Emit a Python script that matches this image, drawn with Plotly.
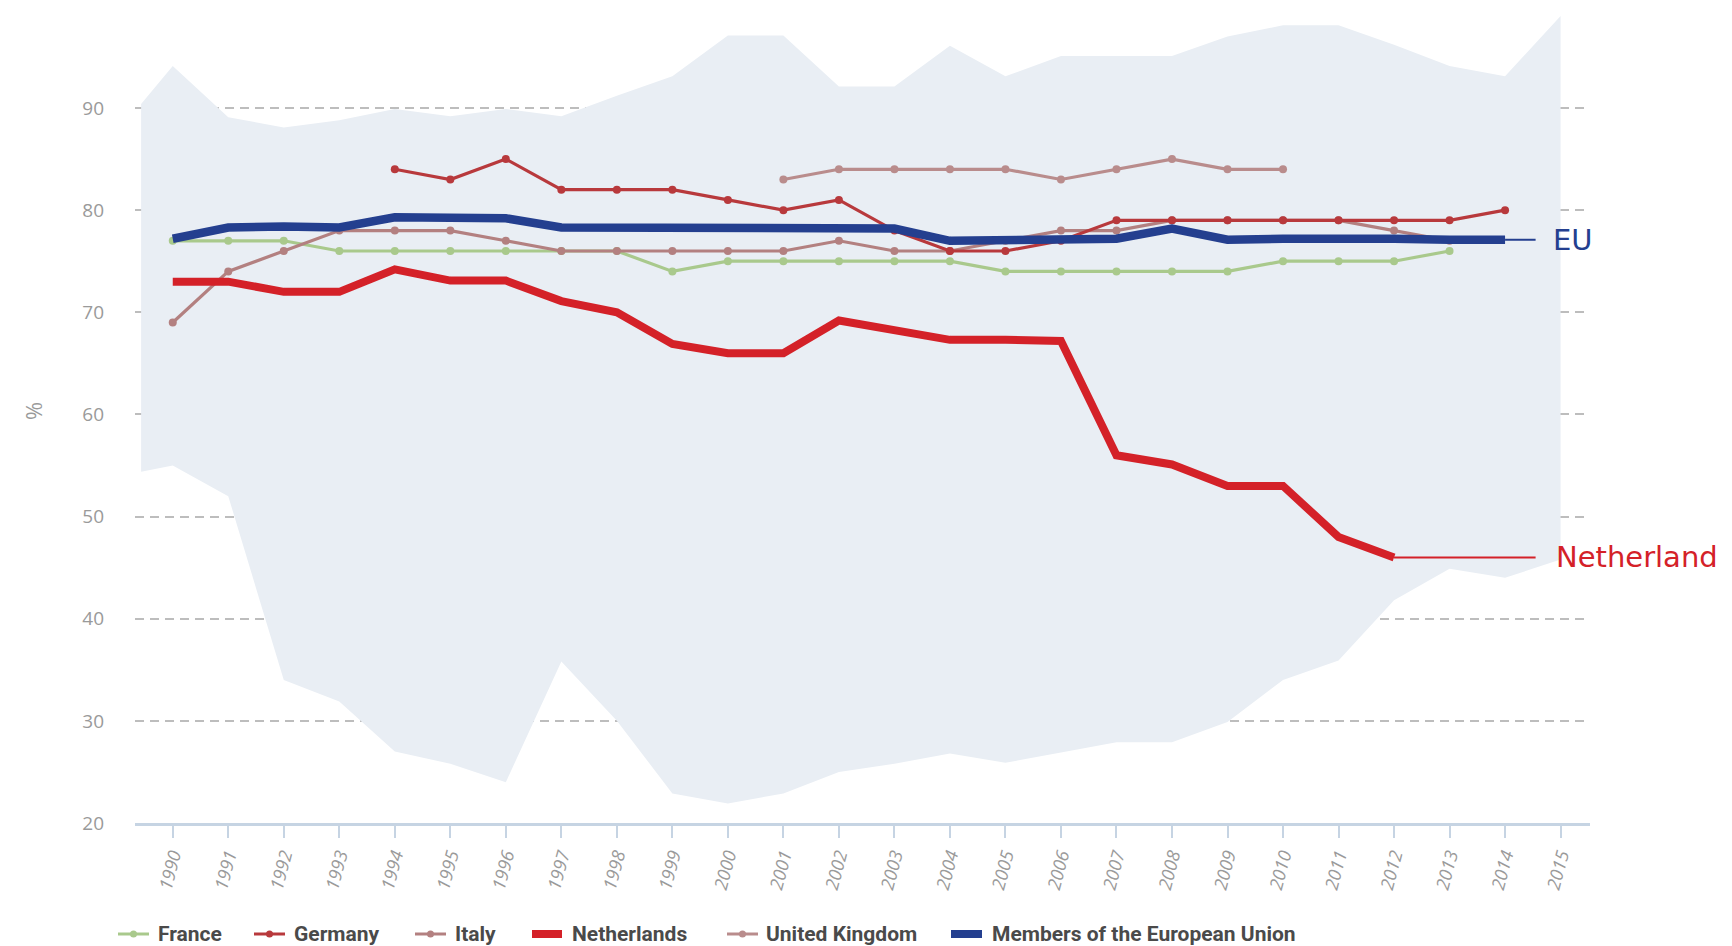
import plotly.graph_objects as go

# ---------------- data ----------------
years_all = list(range(1990, 2016))

france_years = list(range(1990, 2014))
france = [77, 77, 77, 76, 76, 76, 76, 76, 76, 74, 75, 75, 75, 75, 75, 74, 74, 74, 74, 74, 75, 75, 75, 76]

germany_years = list(range(1994, 2015))
germany = [84, 83, 85, 82, 82, 82, 81, 80, 81, 78, 76, 76, 77, 79, 79, 79, 79, 79, 79, 79, 80]

italy_years = list(range(1990, 2014))
italy = [69, 74, 76, 78, 78, 78, 77, 76, 76, 76, 76, 76, 77, 76, 76, 77, 78, 78, 79, 79, 79, 79, 78, 77]

uk_years = list(range(2001, 2011))
uk = [83, 84, 84, 84, 84, 83, 84, 85, 84, 84]

nl_years = list(range(1990, 2013))
netherlands = [73, 73, 72, 72, 74.2, 73.1, 73.1, 71.1, 70, 66.9, 66, 66, 69.2, 68.2, 67.3, 67.3, 67.2,
               56, 55.1, 53, 53, 48, 46]

eu_years = list(range(1990, 2015))
eu = [77.2, 78.3, 78.4, 78.3, 79.3, 79.2, 79.2, 78.3, 78.3, 78.3, 78.3, 78.3, 78.3, 78.2, 77.0,
      77.1, 77.2, 77.2, 78.2, 77.1, 77.2, 77.3, 77.2, 77.1, 77.1]

band_years = [1989.43] + years_all
band_upper = [90.4, 94.1, 89.1, 88.1, 88.8, 89.9, 89.2, 89.9, 89.2, 91.2, 93.1, 97.1, 97.1, 92.1,
              92.1, 96.1, 93.1, 95.1, 95.1, 95.1, 97.0, 98.1, 98.1, 96.2, 94.1, 93.1, 99.0]
band_lower = [54.4, 55.0, 52.0, 34.0, 31.9, 27.0, 25.8, 24.0, 35.8, 30.0, 22.9, 21.9, 22.9, 25.0,
              25.8, 26.8, 25.9, 26.9, 27.9, 27.9, 29.9, 34.0, 35.9, 41.8, 44.9, 44.0, 45.8]

legend_names = ["France", "Germany", "Italy", "Netherlands", "United Kingdom",
                "Members of the European Union"]
y_ticks = [20, 30, 40, 50, 60, 70, 80, 90, 100]

# ---------------- styles ----------------
C_BAND = "#e9eef4"
C_FR = "#a9c98c"
C_DE = "#b8393c"
C_IT = "#b38080"
C_UK = "#b98c8c"
C_NL = "#d42128"
C_EU = "#243f8f"

W, H = 1732, 946
OFF = 8  # default page body margin
ML, MR, MT, MB = 127, 150, 5, 131
PW = W - ML - MR
PH = H - MT - MB

def px_x(p):
    return (p - OFF - ML) / PW

def px_y(p):
    return (MT + PH - (p - OFF)) / PH

fig = go.Figure()

# band
fig.add_trace(go.Scatter(
    x=band_years + band_years[::-1],
    y=band_upper + band_lower[::-1],
    fill="toself", fillcolor=C_BAND, mode="none", hoverinfo="skip", showlegend=False))

def thin(x, y, color):
    fig.add_trace(go.Scatter(x=x, y=y, mode="lines+markers",
                             line=dict(color=color, width=3.2),
                             marker=dict(color=color, size=8),
                             showlegend=False))

thin(france_years, france, C_FR)
thin(italy_years, italy, C_IT)
thin(uk_years, uk, C_UK)
thin(germany_years, germany, C_DE)

fig.add_trace(go.Scatter(x=nl_years, y=netherlands, mode="lines",
                         line=dict(color=C_NL, width=8), showlegend=False))
fig.add_trace(go.Scatter(x=eu_years, y=eu, mode="lines",
                         line=dict(color=C_EU, width=8.5), showlegend=False))

# callout lines and labels
fig.add_trace(go.Scatter(x=[eu_years[-1], 2014.55], y=[eu[-1], eu[-1]], mode="lines",
                         line=dict(color=C_EU, width=2), showlegend=False, hoverinfo="skip"))
fig.add_trace(go.Scatter(x=[nl_years[-1], 2014.55], y=[netherlands[-1], netherlands[-1]], mode="lines",
                         line=dict(color=C_NL, width=2), showlegend=False, hoverinfo="skip"))

annotations = [
    dict(x=2014.82, y=eu[-1], xref="x", yref="y", text="EU", showarrow=False,
         xanchor="left", yanchor="middle",
         font=dict(family="DejaVu Sans, sans-serif", size=29, color=C_EU)),
    dict(x=2014.88, y=netherlands[-1], xref="x", yref="y", text="Netherland", showarrow=False,
         xanchor="left", yanchor="middle",
         font=dict(family="DejaVu Sans, sans-serif", size=29, color=C_NL)),
    dict(x=px_x(33), y=px_y(411), xref="paper", yref="paper", text="%",
         showarrow=False, textangle=-90, xanchor="center", yanchor="middle",
         font=dict(family="Open Sans, sans-serif", size=22, color="#9a9a9a")),
]

# manual legend (page-pixel positions of line start, line end, text start)
shapes = []
leg_items = [
    (118, 149, 156, C_FR, False),
    (254, 285, 292, C_DE, False),
    (415, 446, 453, C_IT, False),
    (532, 562, 570, C_NL, True),
    (727, 758, 764, C_UK, False),
    (951, 982, 990, C_EU, True),
]
LY = 934

for name, (x0, x1, xt, col, thick) in zip(legend_names, leg_items):
    shapes.append(dict(type="line", xref="paper", yref="paper",
                       x0=px_x(x0), x1=px_x(x1), y0=px_y(LY), y1=px_y(LY),
                       line=dict(color=col, width=8 if thick else 3)))
    if not thick:
        cx = (x0 + x1) / 2
        shapes.append(dict(type="circle", xref="paper", yref="paper",
                           x0=px_x(cx - 3.5), x1=px_x(cx + 3.5),
                           y0=px_y(LY + 3.5), y1=px_y(LY - 3.5),
                           fillcolor=col, line=dict(width=0)))
    annotations.append(dict(x=px_x(xt), y=px_y(LY), xref="paper", yref="paper", text="<b>%s</b>" % name,
                            showarrow=False, xanchor="left", yanchor="middle",
                            font=dict(family="Roboto, sans-serif", size=21, color="#4a4a4a")))

fig.update_layout(
    width=W, height=H, autosize=False,
    margin=dict(l=ML, r=MR, t=MT, b=MB),
    paper_bgcolor="white", plot_bgcolor="white",
    showlegend=False,
    annotations=annotations, shapes=shapes,
    xaxis=dict(range=[1989.32, 2015.53], tickmode="array", tickvals=years_all,
               ticktext=[str(y) for y in years_all], tickangle=-75,
               tickfont=dict(family="Open Sans, sans-serif", size=18, color="#9a9a9a", style="italic"),
               ticks="outside", ticklen=12, tickcolor="#c6d4e3", tickwidth=1.5,
               showline=True, linecolor="#c6d4e3", linewidth=2.5,
               showgrid=False, zeroline=False),
    yaxis=dict(range=[20, 99.3], tickmode="array", tickvals=y_ticks,
               tickfont=dict(family="Open Sans, sans-serif", size=19, color="#9a9a9a"),
               ticks="", ticklabelstandoff=30,
               showgrid=True, gridcolor="#bdbdbd", gridwidth=1.5, griddash="9px,6px",
               zeroline=False, showline=False),
)

fig.write_html("out.html")
